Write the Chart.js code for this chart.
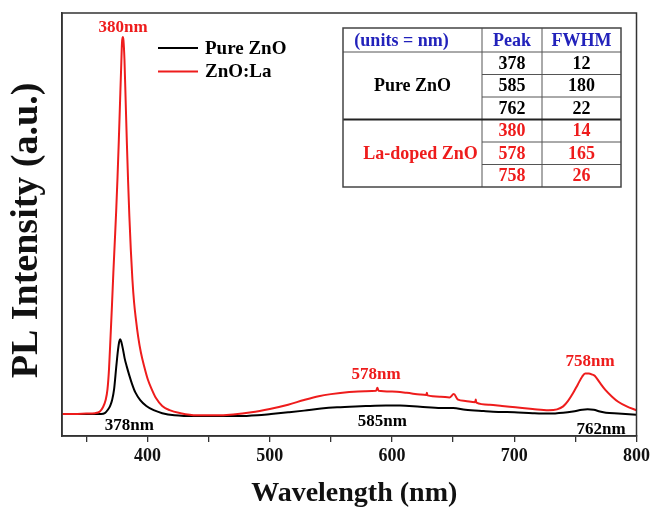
<!DOCTYPE html>
<html><head><meta charset="utf-8">
<script src="https://cdn.jsdelivr.net/npm/chart.js@4"></script>
<style>html,body{margin:0;padding:0;background:#fff}#wrap{width:654px;height:510px}</style>
</head><body><div id="wrap"><canvas id="c" width="654" height="510"></canvas></div>
<script>
// ---- data ----
const seriesNames = ['Pure ZnO', 'ZnO:La'];
const xTitle = 'Wavelength (nm)';
const yTitle = 'PL Intensity (a.u.)';
const pureWl = [330,345,355,362,365,367.5,369.5,371,372.6,374.4,375.8,376.8,377.6,378.5,380,381.3,383,385,387.2,390,394,399,405,412,422,440,474,490,501,515,528,542,555,570,582,595,606.5,623,640,650,660,675,687,700,715,728.5,740,748,755.6,760,765,770,775,785,800];
const pureI  = [5.2,5.2,5.2,5.2,5.4,6.2,7.2,8.5,11,16.4,20.3,22.3,22.9,22.3,20.3,18.3,16.4,14.4,12.4,10.3,8.5,7.1,6.1,5.4,4.9,4.7,4.7,4.9,5.2,5.6,6.0,6.5,6.8,7.0,7.1,7.2,7.2,6.9,6.6,6.6,6.2,5.9,5.7,5.6,5.4,5.3,5.5,5.8,6.2,6.3,6.2,5.8,5.5,5.3,5.0];
const laWl = [330,340,350,357,361,363.5,365.7,367.2,368.5,369.8,370.9,372,373.2,374.3,375.4,376.5,377.6,378.5,379.1,379.7,380.3,381.1,382.1,383.1,384.1,385.1,386.3,387.6,389,390.5,392.3,394.5,397.2,400.3,403.5,407,412,418,427,440,455,470,485,500,515,528,540,550,565,578,587,588,589,600,612,623,628,628.5,629,640,647,650.5,654,660,668,668.5,669,680,690,701,715,728,735,740,744,748,752,755.5,758,761,764,766,770,774.5,780,785,792,800];
const laI  = [5.2,5.2,5.3,5.4,5.8,6.8,8.5,11,16,24,31,38.5,46,53,61,70,80,88,93,94.3,93.5,89,79,69,60,52,44,37,31.5,27.5,23.5,19.8,16.5,13.3,11,8.9,7.1,6.1,5.4,4.9,4.9,5.1,5.6,6.4,7.4,8.5,9.4,9.9,10.4,10.6,10.7,11.4,10.7,10.5,10.2,9.8,9.7,10.2,9.6,9.3,9.1,9.9,8.6,8.3,8.0,8.6,7.9,7.4,7.1,6.8,6.4,6.1,6.3,7.0,8.3,10.1,12.2,14,14.8,14.8,14.5,14.2,12.6,10.9,9.3,8.1,7,6.1];
const xTicks = [350,400,450,500,550,600,650,700,750,800];
const peakLabels = ['380nm','378nm','578nm','585nm','758nm','762nm'];
const tableHead = ['(units = nm)', 'Peak', 'FWHM'];
const sampleNames = ['Pure ZnO', 'La-doped ZnO'];
const purePeaks = [378, 585, 762];
const pureFwhm = [12, 180, 22];
const laPeaks = [380, 578, 758];
const laFwhm = [14, 165, 26];

const BLACK = '#000000', RED = '#ee1c1c', BLUE = '#2222bb';
const SERIF = '"Liberation Serif", "DejaVu Serif", serif';

// annotation placement (label index -> anchor in data units, pixel offset, colour)
const annotPlace = [
  {x: 380, y: 94.3, dy: -10, c: RED},
  {x: 385, y: 4.7, dy: 9, c: BLACK},
  {x: 587, y: 10.6, dy: -17, c: RED},
  {x: 592, y: 7.1, dy: 16, c: BLACK},
  {x: 762, y: 14.8, dy: -12, c: RED},
  {x: 771, y: 5.0, dy: 15, c: BLACK}
];

const overlay = {
  id: 'overlay',
  afterDatasetsDraw(chart) {
    const ctx = chart.ctx, a = chart.chartArea;
    const xs = chart.scales.x, ys = chart.scales.y;
    ctx.save();
    ctx.strokeStyle = '#333'; ctx.lineWidth = 1.5;
    ctx.strokeRect(a.left, a.top, a.right - a.left, a.bottom - a.top);
    ctx.fillStyle = '#111';
    ctx.textAlign = 'center'; ctx.textBaseline = 'middle';
    ctx.font = 'bold 28px ' + SERIF;
    ctx.fillText(xTitle, (a.left + a.right) / 2 + 5, 494);
    ctx.save();
    ctx.translate(27, (a.top + a.bottom) / 2 + 6);
    ctx.rotate(-Math.PI / 2);
    ctx.font = 'bold 38px ' + SERIF;
    ctx.fillText(yTitle, 0, 0);
    ctx.restore();
    ctx.font = 'bold 17px ' + SERIF;
    peakLabels.forEach((t, i) => {
      const p = annotPlace[i];
      ctx.fillStyle = p.c;
      ctx.fillText(t, xs.getPixelForValue(p.x), ys.getPixelForValue(p.y) + p.dy);
    });
    ctx.font = 'bold 19px ' + SERIF;
    ctx.textAlign = 'left';
    chart.data.datasets.forEach((ds, i) => {
      const y = a.top + 35 + i * 23.5;
      ctx.strokeStyle = ds.borderColor; ctx.lineWidth = 2;
      ctx.beginPath(); ctx.moveTo(a.left + 96, y); ctx.lineTo(a.left + 136, y); ctx.stroke();
      ctx.fillStyle = BLACK;
      ctx.fillText(ds.label, a.left + 143, y + 1);
    });
    const L = 343, T = 28, R = 621, B = 187;
    const c1 = 482, c2 = 542, hb = 52;
    const rh = (B - hb) / 6;
    ctx.fillStyle = '#fff';
    ctx.fillRect(L, T, R - L, B - T);
    ctx.strokeStyle = '#555'; ctx.lineWidth = 1;
    for (let r = 1; r < 6; r++) {
      if (r === 3) continue;
      const y = hb + r * rh;
      ctx.beginPath(); ctx.moveTo(c1, y); ctx.lineTo(R, y); ctx.stroke();
    }
    ctx.beginPath();
    ctx.moveTo(c1, T); ctx.lineTo(c1, B);
    ctx.moveTo(c2, T); ctx.lineTo(c2, B);
    ctx.moveTo(L, hb); ctx.lineTo(R, hb);
    ctx.stroke();
    ctx.strokeStyle = '#222'; ctx.lineWidth = 2;
    ctx.beginPath(); ctx.moveTo(L, hb + 3 * rh); ctx.lineTo(R, hb + 3 * rh); ctx.stroke();
    ctx.strokeStyle = '#444'; ctx.lineWidth = 1.5;
    ctx.strokeRect(L, T, R - L, B - T);
    ctx.font = 'bold 18px ' + SERIF;
    ctx.textAlign = 'center';
    ctx.fillStyle = BLUE;
    ctx.fillText(tableHead[0], (L + c1) / 2 - 11, (T + hb) / 2 + 1);
    ctx.fillText(tableHead[1], (c1 + c2) / 2, (T + hb) / 2 + 1);
    ctx.fillText(tableHead[2], (c2 + R) / 2, (T + hb) / 2 + 1);
    const groups = [[purePeaks, pureFwhm, BLACK], [laPeaks, laFwhm, RED]];
    groups.forEach((g, gi) => {
      ctx.fillStyle = g[2];
      ctx.fillText(sampleNames[gi], (L + c1) / 2 + (gi ? 8 : 0), hb + (gi * 3 + 1.5) * rh + 1);
      g[0].forEach((v, k) => {
        const y = hb + (gi * 3 + k + 0.5) * rh + 1;
        ctx.fillText(String(v), (c1 + c2) / 2, y);
        ctx.fillText(String(g[1][k]), (c2 + R) / 2, y);
      });
    });
    ctx.restore();
  }
};

new Chart(document.getElementById('c'), {
  type: 'line',
  data: {
    datasets: [
      {label: seriesNames[0], data: pureWl.map((w, i) => ({x: w, y: pureI[i]})), borderColor: BLACK, borderWidth: 2, pointRadius: 0, cubicInterpolationMode: 'monotone', order: 1},
      {label: seriesNames[1], data: laWl.map((w, i) => ({x: w, y: laI[i]})), borderColor: RED, borderWidth: 2, pointRadius: 0, cubicInterpolationMode: 'monotone', order: 0}
    ]
  },
  options: {
    responsive: false, animation: false,
    layout: {padding: {top: 13, right: 16, left: 0, bottom: 0}},
    plugins: {legend: {display: false}, tooltip: {enabled: false}},
    scales: {
      x: {
        type: 'linear', min: 330, max: 800,
        afterBuildTicks: s => { s.ticks = xTicks.map(v => ({value: v})); },
        afterFit: s => { s.height = 74; },
        ticks: {autoSkip: false, maxRotation: 0, padding: 4, color: '#111',
          font: {family: SERIF, size: 18, weight: 'bold'},
          callback: v => (v % 100 === 0 ? String(v) : '')},
        grid: {drawOnChartArea: false, drawTicks: true, tickLength: 6, color: '#333', lineWidth: 1.3},
        border: {display: true, color: '#333', width: 1.5},
        title: {display: false}
      },
      y: {
        min: 0, max: 100,
        afterFit: s => { s.width = 62; },
        ticks: {display: false},
        grid: {display: false},
        border: {display: true, color: '#333', width: 1.5},
        title: {display: false}
      }
    }
  },
  plugins: [overlay]
});
</script>
</body></html>
